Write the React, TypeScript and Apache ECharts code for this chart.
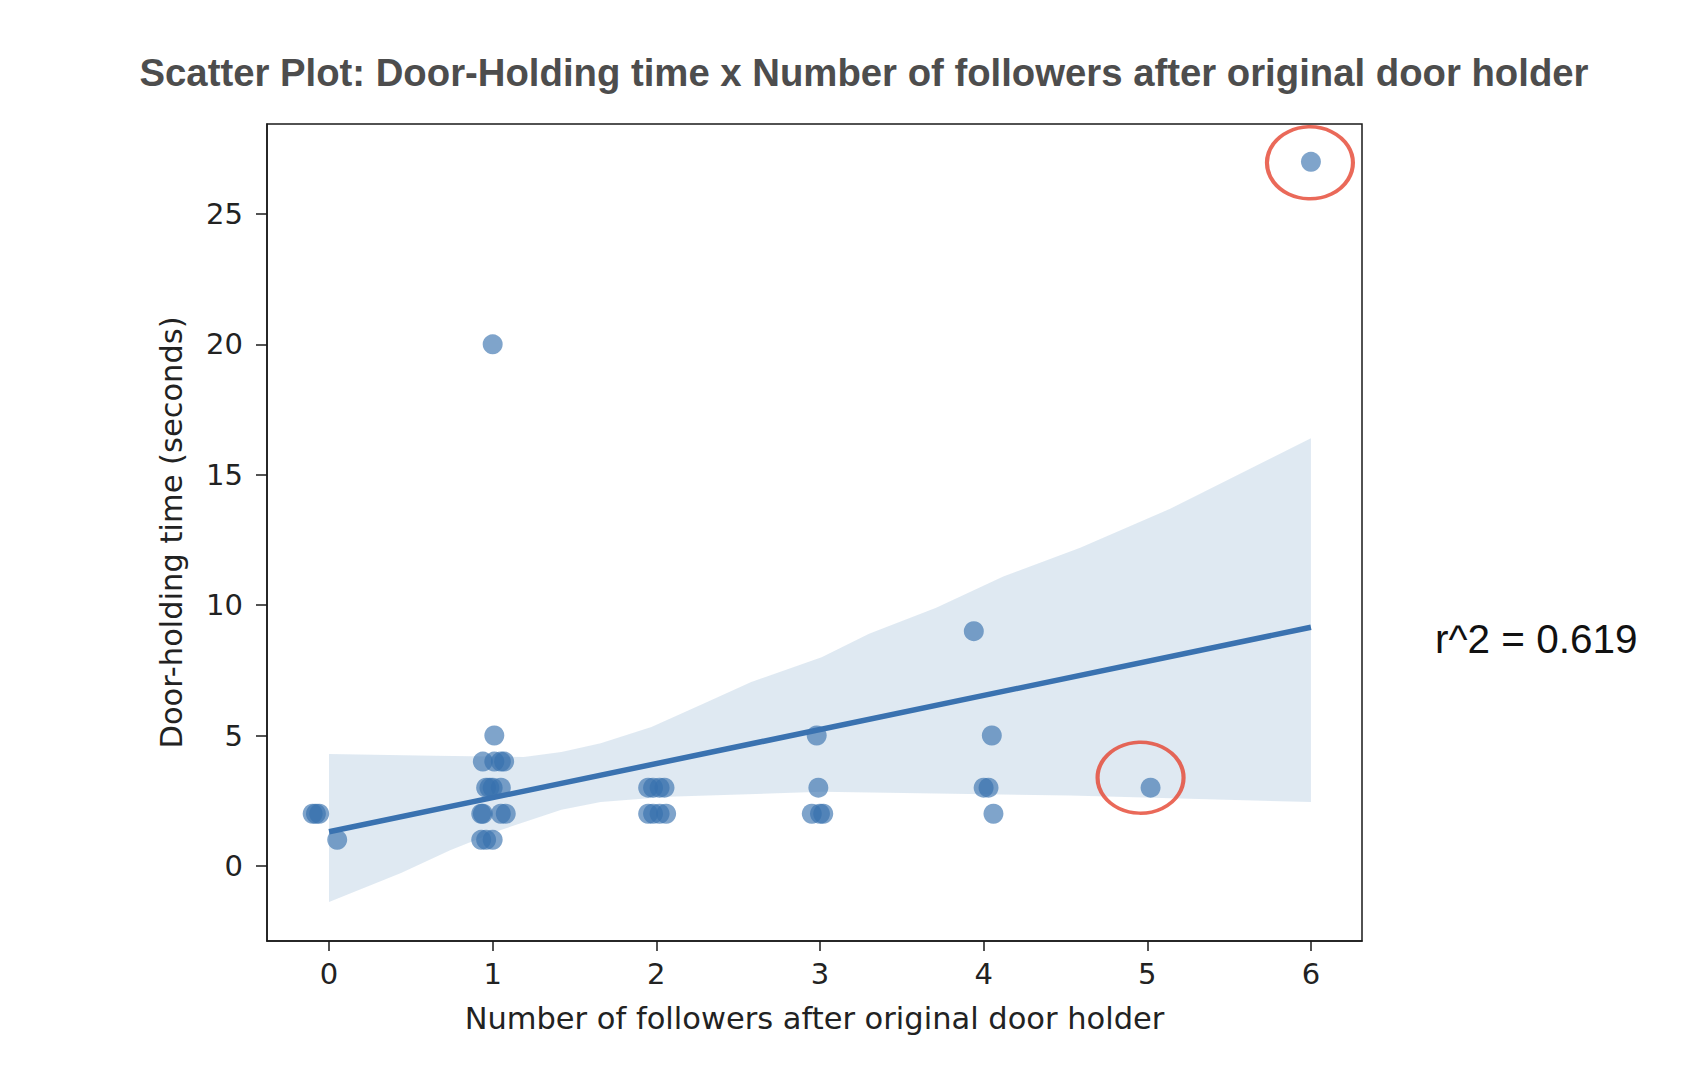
import React, { useEffect, useRef } from "react";
import * as echarts from "echarts";

// Scatter data (x jittered as in the picture)
const followers = [
  -0.1, -0.08, -0.06, 0.05,
  1.0, 1.01,
  0.94, 1.01, 1.05, 1.07,
  0.96, 0.98, 1.0, 1.05,
  0.93, 0.94, 1.05, 1.08,
  0.93, 0.96, 1.0,
  1.95, 1.98, 2.02, 2.05,
  1.95, 1.98, 2.02, 2.06,
  2.98, 2.99, 2.95, 3.0, 3.02,
  3.94, 4.05, 4.0, 4.03, 4.06,
  5.02, 6.0,
];
const holdTime = [
  2, 2, 2, 1,
  20, 5,
  4, 4, 4, 4,
  3, 3, 3, 3,
  2, 2, 2, 2,
  1, 1, 1,
  3, 3, 3, 3,
  2, 2, 2, 2,
  5, 3, 2, 2, 2,
  9, 5, 3, 3, 2,
  3, 27,
];

// Regression line endpoints
const fitX = [0, 6];
const fitY = [1.31, 9.15];

// Confidence band
const bandUpperX = [0, 0.64, 1.19, 1.42, 1.66, 1.97, 2.28, 2.58, 3.01, 3.3, 3.71, 4.12, 4.59, 5.14, 6.0];
const bandUpperY = [4.29, 4.22, 4.18, 4.37, 4.7, 5.33, 6.2, 7.05, 8.0, 8.9, 9.9, 11.1, 12.2, 13.7, 16.4];
const bandLowerX = [0, 0.44, 0.74, 1.05, 1.42, 1.66, 2.07, 3.01, 4.53, 6.0];
const bandLowerY = [-1.38, -0.27, 0.6, 1.38, 2.15, 2.45, 2.65, 2.84, 2.7, 2.45];

// Highlighted (circled) points
const circledX = [6, 5.02];
const circledY = [27, 3];

const xTicks = [0, 1, 2, 3, 4, 5, 6];
const yTicks = [0, 5, 10, 15, 20, 25];

const titleText = "Scatter Plot: Door-Holding time x Number of followers after original door holder";
const rText = "r^2 = 0.619";

export default function App() {
  const ref = useRef<HTMLDivElement>(null);

  useEffect(() => {
    if (!ref.current) return;
    const chart = echarts.init(ref.current, undefined, { renderer: "svg" });

    const points = followers.map((x, i) => [x, holdTime[i]]);
    const bandPoly: number[][] = [];
    bandUpperX.forEach((x, i) => bandPoly.push([x, bandUpperY[i]]));
    for (let i = bandLowerX.length - 1; i >= 0; i--) bandPoly.push([bandLowerX[i], bandLowerY[i]]);

    const tickFont = "DejaVu Sans";
    const axisColor = "#1a1a1a";

    chart.setOption({
      animation: false,
      backgroundColor: "#fff",
      grid: {
        left: 267,
        top: 124,
        width: 1095,
        height: 817,
        show: true,
        borderColor: axisColor,
        borderWidth: 1.5,
        containLabel: false,
      },
      xAxis: {
        type: "value",
        min: -0.379,
        max: 6.312,
        name: "Number of followers after original door holder",
        nameLocation: "middle",
        nameGap: 62,
        nameTextStyle: { fontFamily: tickFont, fontSize: 30.5, color: "#222" },
        axisLine: { show: true, onZero: false, lineStyle: { color: axisColor, width: 1.5 } },
        splitLine: { show: false },
        axisTick: {
          show: true,
          length: 10,
          customValues: xTicks,
          lineStyle: { color: axisColor, width: 1.5 },
        },
        axisLabel: {
          customValues: xTicks,
          margin: 18,
          fontFamily: tickFont,
          fontSize: 29,
          color: "#222",
        },
      },
      yAxis: {
        type: "value",
        min: -2.88,
        max: 28.45,
        name: "Door-holding time (seconds)",
        nameLocation: "middle",
        nameGap: 80,
        nameTextStyle: { fontFamily: tickFont, fontSize: 30.5, color: "#222" },
        axisLine: { show: true, onZero: false, lineStyle: { color: axisColor, width: 1.5 } },
        splitLine: { show: false },
        axisTick: {
          show: true,
          length: 11,
          customValues: yTicks,
          lineStyle: { color: axisColor, width: 1.5 },
        },
        axisLabel: {
          customValues: yTicks,
          margin: 24,
          fontFamily: tickFont,
          fontSize: 29,
          color: "#222",
        },
      },
      graphic: [
        {
          type: "text",
          x: 864,
          y: 72,
          style: {
            text: titleText,
            align: "center",
            verticalAlign: "middle",
            fontFamily: "Liberation Sans, Arial, Helvetica, sans-serif",
            fontWeight: "bold",
            fontSize: 38.3,
            fill: "#4d4d4d",
          },
        },
        {
          type: "text",
          x: 1435,
          y: 639,
          style: {
            text: rText,
            align: "left",
            verticalAlign: "middle",
            fontFamily: "Liberation Sans, Arial, Helvetica, sans-serif",
            fontSize: 40.5,
            fill: "#111",
          },
        },
      ],
      series: [
        {
          type: "custom",
          name: "band",
          silent: true,
          z: 1,
          data: [0],
          renderItem: (params: any, api: any) => {
            const pts = bandPoly.map((p) => api.coord(p));
            return {
              type: "polygon",
              shape: { points: pts },
              style: { fill: "rgba(58,116,176,0.16)", stroke: "none" },
            };
          },
        },
        {
          type: "scatter",
          name: "points",
          z: 2,
          symbol: "circle",
          symbolSize: 20,
          data: points,
          itemStyle: { color: "rgba(54,112,174,0.8)" },
        },
        {
          type: "line",
          name: "fit",
          z: 3,
          showSymbol: false,
          symbol: "none",
          data: fitX.map((x, i) => [x, fitY[i]]),
          lineStyle: { color: "#3a72b0", width: 5.5 },
        },
        {
          type: "scatter",
          name: "circled",
          z: 4,
          silent: true,
          data: [
            { value: [circledX[0], circledY[0]], symbolSize: [86, 72], symbolOffset: [-1, 1] },
            { value: [circledX[1], circledY[1]], symbolSize: [86, 71], symbolOffset: [-10, -10] },
          ],
          symbol: "circle",
          itemStyle: { color: "rgba(0,0,0,0)", borderColor: "#e5432f", borderWidth: 3.8 },
        },
      ],
    });

    return () => chart.dispose();
  }, []);

  return (
    <div
      ref={ref}
      style={{ position: "absolute", left: 0, top: 0, width: 1698, height: 1078, background: "#fff" }}
    />
  );
}
